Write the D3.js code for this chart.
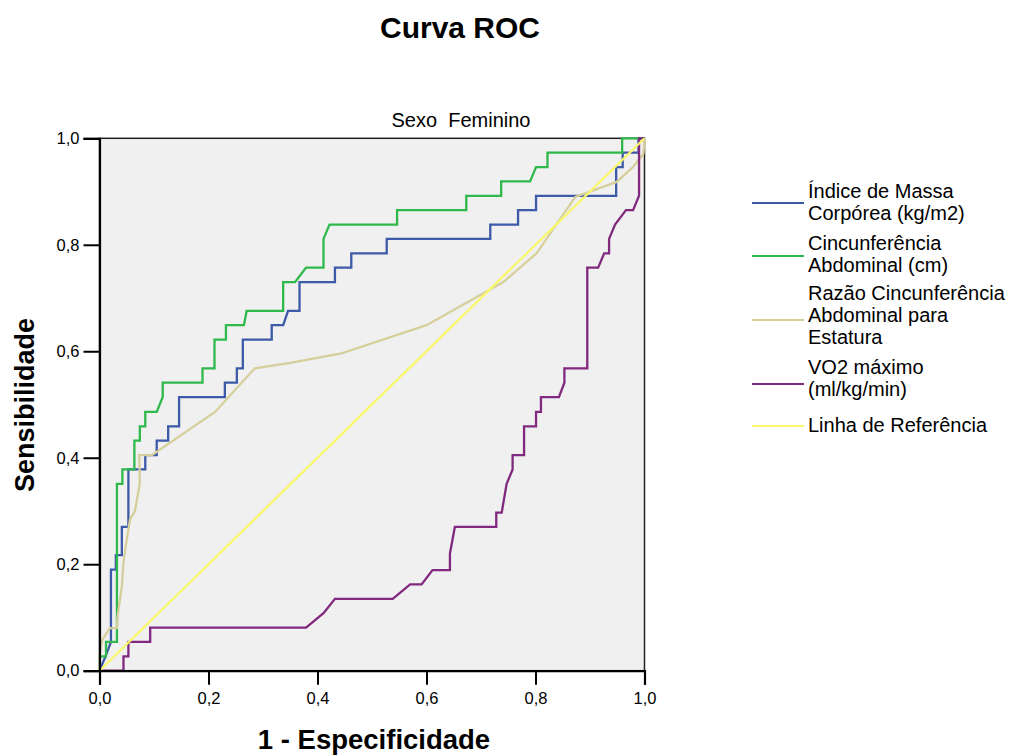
<!DOCTYPE html>
<html>
<head>
<meta charset="utf-8">
<script src="https://cdn.jsdelivr.net/npm/d3@7"></script>
<style>
  body { margin: 0; background: #fff; }
  text { font-family: "Liberation Sans", Arial, sans-serif; }
</style>
</head>
<body>
<div id="chart"></div>
<script>
// ROC curves, points as [1 - especificidade, sensibilidade]
var imc = [[0,0],[0.011,0.027],[0.021,0.054],[0.021,0.19],[0.03,0.19],[0.03,0.217],[0.041,0.217],[0.041,0.27],
  [0.053,0.27],[0.053,0.378],[0.084,0.378],[0.084,0.405],[0.105,0.405],[0.105,0.432],[0.126,0.432],[0.126,0.459],
  [0.146,0.459],[0.146,0.514],[0.23,0.514],[0.23,0.541],[0.252,0.541],[0.252,0.568],[0.263,0.568],[0.263,0.622],
  [0.316,0.622],[0.316,0.649],[0.337,0.649],[0.346,0.676],[0.367,0.676],[0.367,0.73],[0.432,0.73],[0.432,0.757],
  [0.462,0.757],[0.462,0.784],[0.527,0.784],[0.527,0.811],[0.717,0.811],[0.717,0.838],[0.768,0.838],[0.768,0.865],
  [0.801,0.865],[0.801,0.892],[0.948,0.892],[0.948,0.946],[0.96,0.946],[0.96,0.973],[0.989,0.973],[0.989,1],[1,1]];

var cintura = [[0,0],[0,0.027],[0.012,0.027],[0.012,0.054],[0.032,0.054],[0.032,0.351],[0.042,0.351],[0.042,0.378],
  [0.064,0.378],[0.064,0.432],[0.074,0.432],[0.074,0.459],[0.084,0.459],[0.084,0.486],[0.105,0.486],[0.116,0.514],
  [0.116,0.541],[0.189,0.541],[0.189,0.568],[0.211,0.568],[0.211,0.622],[0.232,0.622],[0.232,0.649],[0.265,0.649],
  [0.27,0.676],[0.337,0.676],[0.337,0.73],[0.359,0.73],[0.379,0.757],[0.411,0.757],[0.411,0.811],[0.422,0.838],
  [0.546,0.838],[0.546,0.865],[0.673,0.865],[0.673,0.892],[0.737,0.892],[0.737,0.919],[0.79,0.919],[0.801,0.946],
  [0.822,0.946],[0.822,0.973],[0.959,0.973],[0.959,1],[1,1]];

var razao = [[0,0],[0,0.03],[0.005,0.058],[0.019,0.08],[0.032,0.08],[0.033,0.101],[0.041,0.158],[0.044,0.202],
  [0.048,0.233],[0.056,0.284],[0.065,0.3],[0.074,0.352],[0.073,0.405],[0.096,0.405],[0.212,0.486],[0.285,0.568],
  [0.35,0.578],[0.444,0.596],[0.6,0.649],[0.741,0.73],[0.802,0.784],[0.873,0.89],[0.949,0.918],[0.979,0.946],
  [0.998,0.971],[1,1]];

var vo2 = [[0,0],[0.044,0],[0.044,0.027],[0.053,0.027],[0.053,0.054],[0.093,0.054],[0.093,0.081],[0.379,0.081],
  [0.411,0.108],[0.432,0.135],[0.538,0.135],[0.57,0.162],[0.591,0.162],[0.611,0.189],[0.643,0.189],[0.643,0.22],
  [0.652,0.27],[0.728,0.27],[0.728,0.297],[0.738,0.297],[0.747,0.351],[0.758,0.378],[0.758,0.405],[0.779,0.405],
  [0.779,0.459],[0.801,0.459],[0.801,0.486],[0.81,0.486],[0.81,0.514],[0.843,0.514],[0.853,0.541],[0.853,0.568],
  [0.895,0.568],[0.895,0.757],[0.915,0.757],[0.926,0.784],[0.935,0.784],[0.935,0.811],[0.946,0.838],[0.966,0.865],
  [0.979,0.865],[0.99,0.892],[0.99,1],[1,1]];

var referencia = [[0,0],[1,1]];

var seriesNames = [["Índice de Massa", "Corpórea (kg/m2)"], ["Cincunferência", "Abdominal (cm)"],
  ["Razão Cincunferência", "Abdominal para", "Estatura"], ["VO2 máximo", "(ml/kg/min)"], ["Linha de Referência"]];
var seriesData = [imc, cintura, razao, vo2, referencia];
var seriesColors = ["#3d5aa8", "#2fb84b", "#d6cf9c", "#80297f", "#f9f76c"];
var tickValues = [0, 0.2, 0.4, 0.6, 0.8, 1.0];

var width = 1009, height = 756;
var margin = { left: 99.5, top: 138.3, right: 364.5, bottom: 85.3 };
var w = width - margin.left - margin.right,
    h = height - margin.top - margin.bottom;

var svg = d3.select("#chart").append("svg")
  .attr("width", width)
  .attr("height", height);

var x = d3.scaleLinear().domain([0, 1]).range([0, w]);
var y = d3.scaleLinear().domain([0, 1]).range([h, 0]);
var fmt = function(d) { return d3.format(".1f")(d).replace(".", ","); };

var g = svg.append("g")
  .attr("transform", "translate(" + margin.left + "," + margin.top + ")");

g.append("rect")
  .attr("width", w).attr("height", h)
  .attr("fill", "#f0f0f0")
  .attr("stroke", "#222").attr("stroke-width", 1.5);

var line = d3.line()
  .x(function(d) { return x(d[0]); })
  .y(function(d) { return y(d[1]); });

g.selectAll(".curve")
  .data(seriesData)
  .enter().append("path")
  .attr("class", "curve")
  .attr("d", line)
  .attr("fill", "none")
  .attr("stroke", function(d, i) { return seriesColors[i]; })
  .attr("stroke-width", 2.3)
  .attr("stroke-linejoin", "miter");

// axes
var xAxis = g.append("g")
  .attr("transform", "translate(0," + h + ")")
  .call(d3.axisBottom(x).tickValues(tickValues).tickFormat(fmt).tickSize(14).tickPadding(8));
var yAxis = g.append("g")
  .call(d3.axisLeft(y).tickValues(tickValues).tickFormat(fmt).tickSize(16).tickPadding(4));

[xAxis, yAxis].forEach(function(a) {
  a.select(".domain").attr("stroke", "#000").attr("stroke-width", 2.2);
  a.selectAll(".tick line").attr("stroke", "#000").attr("stroke-width", 2);
  a.selectAll(".tick text").attr("fill", "#000")
    .style("font-size", "16.5px")
    .style("font-family", "'Liberation Sans', Arial, sans-serif");
});

// titles
svg.append("text")
  .attr("x", 460).attr("y", 38)
  .attr("text-anchor", "middle")
  .style("font-size", "30px").style("font-weight", "bold")
  .text("Curva ROC");

svg.append("text")
  .attr("x", 461).attr("y", 127)
  .attr("text-anchor", "middle")
  .style("font-size", "20px")
  .attr("xml:space", "preserve")
  .text("Sexo  Feminino");

svg.append("text")
  .attr("x", 374).attr("y", 749)
  .attr("text-anchor", "middle")
  .style("font-size", "27.5px").style("font-weight", "bold")
  .text("1 - Especificidade");

svg.append("text")
  .attr("transform", "translate(34,405) rotate(-90)")
  .attr("text-anchor", "middle")
  .style("font-size", "27px").style("font-weight", "bold")
  .text("Sensibilidade");

// legend
var legendLineY = [203, 256, 320, 384, 426];
var legendTextY = [[198, 220], [250, 272], [300, 322, 344], [374, 396], [432]];

var legend = svg.append("g");
seriesNames.forEach(function(names, i) {
  legend.append("line")
    .attr("x1", 752).attr("x2", 804)
    .attr("y1", legendLineY[i]).attr("y2", legendLineY[i])
    .attr("stroke", seriesColors[i]).attr("stroke-width", 2);
  names.forEach(function(t, j) {
    legend.append("text")
      .attr("x", 808).attr("y", legendTextY[i][j])
      .style("font-size", "20px")
      .text(t);
  });
});
</script>
</body>
</html>
